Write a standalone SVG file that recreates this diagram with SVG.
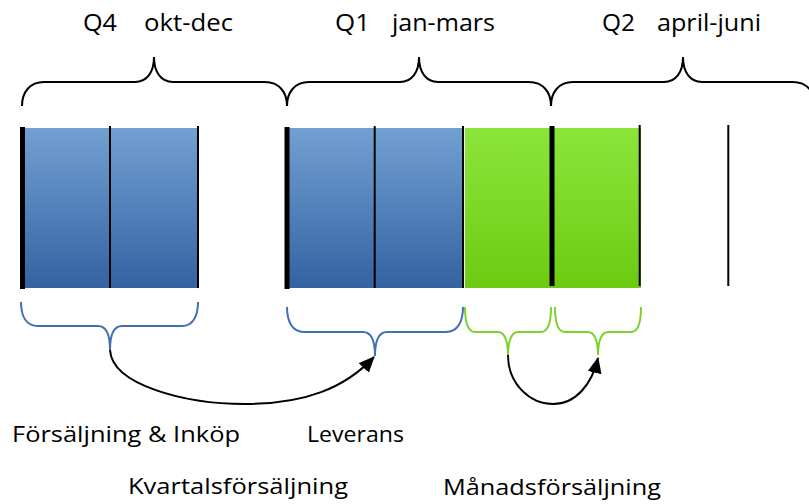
<svg xmlns="http://www.w3.org/2000/svg" width="809" height="504" viewBox="0 0 809 504">
<style>
.t{font-family:"Open Sans","Liberation Sans",sans-serif;fill:#000}
.top{font-size:24px}
.bot{font-size:21px}
.br{fill:none;stroke:#000;stroke-width:2}
.bb{fill:none;stroke:#4070b0;stroke-width:2}
.bg{fill:none;stroke:#7ad22a;stroke-width:2}
.thin{stroke:#000;stroke-width:2}
.arr{fill:none;stroke:#000;stroke-width:2}
</style>
<defs>
<linearGradient id="gb" x1="0" y1="0" x2="0" y2="1">
<stop offset="0" stop-color="#72a0d2"/>
<stop offset="1" stop-color="#3462a2"/>
</linearGradient>
<linearGradient id="gg" x1="0" y1="0" x2="0" y2="1">
<stop offset="0" stop-color="#8ce53a"/>
<stop offset="1" stop-color="#6dcb12"/>
</linearGradient>
<marker id="ah" markerWidth="16" markerHeight="14" refX="15" refY="7" orient="auto" markerUnits="userSpaceOnUse">
<path d="M0,0 L16,7 L0,14 Z" fill="#000"/>
</marker>
</defs>

<g id="labels-top">
<text class="t top" x="83" y="31" textLength="34" lengthAdjust="spacingAndGlyphs">Q4</text>
<text class="t top" x="144" y="31" textLength="89" lengthAdjust="spacingAndGlyphs">okt-dec</text>
<text class="t top" x="335" y="31" textLength="35" lengthAdjust="spacingAndGlyphs">Q1</text>
<text class="t top" x="392" y="31" textLength="103" lengthAdjust="spacingAndGlyphs">jan-mars</text>
<text class="t top" x="602" y="31" textLength="33" lengthAdjust="spacingAndGlyphs">Q2</text>
<text class="t top" x="657" y="31" textLength="104" lengthAdjust="spacingAndGlyphs">april-juni</text>
</g>

<g id="top-braces">
<path class="br" d="M22,106 C22,92 30,82 44,82 L135,82 C147,82 154,72 154,57 C154,72 161,82 173,82 L265,82 C279,82 287,92 287,106"/>
<path class="br" d="M287,106 C287,92 295,82 309,82 L400,82 C412,82 419,72 419,57 C419,72 426,82 438,82 L529,82 C543,82 551,92 551,106"/>
<path class="br" d="M551,106 C551,92 559,82 573,82 L664,82 C676,82 683,72 683,57 C683,72 690,82 702,82 L793,82 C807,82 815,92 815,106"/>
</g>

<g id="q4-block">
<rect x="22" y="128" width="176" height="160" fill="url(#gb)"/>
<rect x="20" y="127" width="5" height="162" fill="#000"/>
<line class="thin" x1="110" y1="126" x2="110" y2="288"/>
<line class="thin" x1="198" y1="126" x2="198" y2="288"/>
</g>

<g id="q1-block">
<rect x="287" y="128" width="176" height="160" fill="url(#gb)"/>
<rect x="284.5" y="127" width="5" height="162" fill="#000"/>
<line class="thin" x1="374.7" y1="126" x2="374.7" y2="288"/>
<line class="thin" x1="463" y1="126" x2="463" y2="288"/>
</g>

<g id="month-block">
<rect x="465" y="128" width="176" height="160" fill="url(#gg)"/>
<rect x="549.5" y="126" width="5" height="160" fill="#000"/>
<line class="thin" x1="639.7" y1="125" x2="639.7" y2="286"/>
<line class="thin" x1="728.3" y1="125" x2="728.3" y2="286"/>
</g>

<g id="bottom-braces">
<path class="bb" d="M21,302 C21,316 26,326 38,326 L98,326 C106,326 110,334 110,350 C110,334 114,326 122,326 L182,326 C193,326 198,316 198,302"/>
<path class="bb" d="M287,307 C287,321 292,332 304,332 L363,332 C371,332 375,340 375,356 C375,340 379,332 387,332 L446,332 C458,332 463,321 463,307"/>
<path class="bg" d="M465,307 C465,321 467,332 475,332 L498,332 C504,332 508,340 508,355 C508,340 512,332 518,332 L541,332 C549,332 551,321 551,307"/>
<path class="bg" d="M555,307 C555,321 557,332 565,332 L588,332 C594,332 598,340 598,355 C598,340 602,332 608,332 L631,332 C639,332 641,321 641,307"/>
</g>

<g id="connectors">
<path class="arr" marker-end="url(#ah)" d="M110,350 C112,385 185,404 245,404 C305,404 345,388 374,357"/>
<path class="arr" marker-end="url(#ah)" d="M508,355 C508,384 530,404 553,404 C576,404 592,384 598,358"/>
</g>

<g id="labels-bottom">
<text class="t bot" x="12" y="442" textLength="228" lengthAdjust="spacingAndGlyphs">Försäljning &amp; Inköp</text>
<text class="t bot" x="307" y="442" textLength="97" lengthAdjust="spacingAndGlyphs">Leverans</text>
<text class="t bot" x="128" y="494" textLength="220" lengthAdjust="spacingAndGlyphs">Kvartalsförsäljning</text>
<text class="t bot" x="443" y="495" textLength="218" lengthAdjust="spacingAndGlyphs">Månadsförsäljning</text>
</g>
</svg>
